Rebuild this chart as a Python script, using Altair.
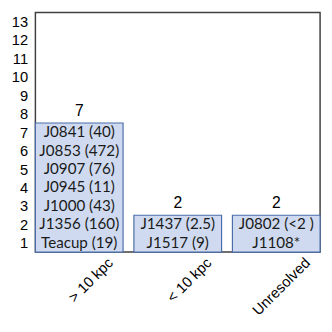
import altair as alt
import pandas as pd

categories = ["> 10 kpc", "< 10 kpc", "Unresolved"]
counts = [7, 2, 2]
objects_gt10 = ["J0841 (40)", "J0853 (472)", "J0907 (76)", "J0945 (11)",
                "J1000 (43)", "J1356 (160)", "Teacup (19)"]
objects_lt10 = ["J1437 (2.5)", "J1517 (9)"]
objects_unres = ["J0802 (<2 )", "J1108*"]
y_tick_labels = list(range(1, 14))

bars = pd.DataFrame({"cat": categories, "count": counts})

rows = []
for cat, objs in zip(categories, [objects_gt10, objects_lt10, objects_unres]):
    n = len(objs)
    for i, name in enumerate(objs):
        rows.append({"cat": cat, "label": name, "pos": n - i - 0.5})
labels = pd.DataFrame(rows)

xscale = alt.Scale(domain=categories, paddingInner=0.11, paddingOuter=0)
yscale = alt.Scale(domain=[0, 13], nice=False)

xaxis = alt.Axis(labelAngle=315, labelAlign="right", labelBaseline="top",
                 labelOffset=27, labelPadding=3, ticks=False, domain=False,
                 labelFont="Liberation Sans", labelFontSize=15,
                 labelColor="#000000")
yaxis = alt.Axis(values=[v - 0.5 for v in y_tick_labels],
                 labelExpr="datum.value + 0.5", ticks=False, domain=False,
                 grid=False, labelPadding=8, labelFont="Liberation Sans",
                 labelFontSize=15, labelColor="#000000",
                 labelOverlap=False, labelBound=False, labelFlush=False)

bar = alt.Chart(bars).mark_bar(fill="#cfdaf0", stroke="#4a6ea9", strokeWidth=1.2).encode(
    x=alt.X("cat:N", scale=xscale, sort=categories, title=None, axis=xaxis),
    y=alt.Y("count:Q", scale=yscale, title=None, axis=yaxis),
)

count_text = alt.Chart(bars).mark_text(
    baseline="alphabetic", dy=-7, fontSize=16, font="Liberation Sans", color="#000000"
).encode(x=alt.X("cat:N", scale=xscale, sort=categories, title=None, axis=xaxis),
         y=alt.Y("count:Q", scale=yscale, title=None, axis=yaxis), text="count:Q")

inner_text = alt.Chart(labels).mark_text(
    baseline="middle", fontSize=15.5, font="Lato", color="#1a1a1a"
).encode(x=alt.X("cat:N", scale=xscale, sort=categories, title=None, axis=xaxis),
         y=alt.Y("pos:Q", scale=yscale, title=None, axis=yaxis), text="label:N")

chart = alt.layer(bar, count_text, inner_text).properties(
    width=291, height=245,
    autosize=alt.AutoSizeParams(type="none"),
    padding={"left": 28, "top": 1, "right": 4, "bottom": 70},
).configure_view(stroke="#404040", strokeWidth=1.5).configure_axis(
    grid=False, labelOverlap=False).configure_axisY(labelOverlap=False)

chart.save("out.html", embed_options={"renderer": "svg", "actions": False})
